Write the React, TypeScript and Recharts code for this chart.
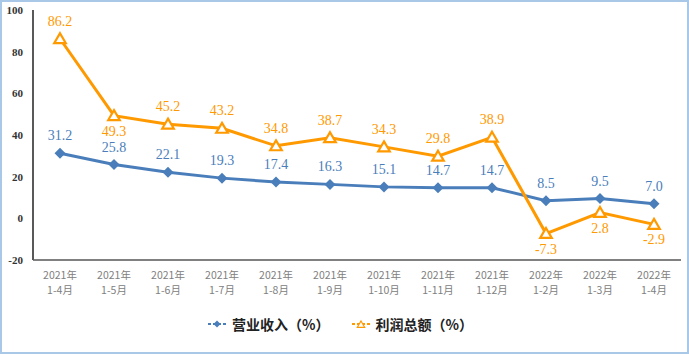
import React from 'react';
import { LineChart, Line, XAxis, YAxis, LabelList, Legend } from 'recharts';

// ---------------------------------------------------------------------------
// Data
// ---------------------------------------------------------------------------

const YEARS = ['2021年', '2021年', '2021年', '2021年', '2021年', '2021年', '2021年', '2021年', '2021年', '2022年', '2022年', '2022年'];
const PERIODS = ['1-4月', '1-5月', '1-6月', '1-7月', '1-8月', '1-9月', '1-10月', '1-11月', '1-12月', '1-2月', '1-3月', '1-4月'];
const REVENUE = [31.2, 25.8, 22.1, 19.3, 17.4, 16.3, 15.1, 14.7, 14.7, 8.5, 9.5, 7.0];
const PROFIT = [86.2, 49.3, 45.2, 43.2, 34.8, 38.7, 34.3, 29.8, 38.9, -7.3, 2.8, -2.9];
const Y_TICKS = [-20, 0, 20, 40, 60, 80, 100];

const BLUE = '#4A7EBB';
const ORANGE = '#FF9900';

const data = YEARS.map((y, i) => ({
  key: `${y}${PERIODS[i]}-${i}`,
  year: y,
  period: PERIODS[i],
  revenue: REVENUE[i],
  profit: PROFIT[i],
}));

// ---------------------------------------------------------------------------
// Shapes
// ---------------------------------------------------------------------------

function diamondPath(cx: number, cy: number, s: number) {
  return `M${cx},${cy - s} L${cx + s},${cy} L${cx},${cy + s} L${cx - s},${cy} Z`;
}

function trianglePath(cx: number, cy: number, s: number) {
  return `M${cx},${cy - s} L${cx + s * 1.05},${cy + s * 0.8} L${cx - s * 1.05},${cy + s * 0.8} Z`;
}

function RevenueDot({ cx, cy }: any) {
  if (cx == null || cy == null) return null;
  return <path d={diamondPath(cx, cy, 5.5)} fill={BLUE} />;
}

function ProfitDot({ cx, cy }: any) {
  if (cx == null || cy == null) return null;
  return <path d={trianglePath(cx, cy, 5.5)} fill="#fff" stroke={ORANGE} strokeWidth={2.2} />;
}

function XTick({ x, y, payload, index }: any) {
  const d = data[index];
  return (
    <g transform={`translate(${x},${y})`}>
      <text x={0} y={11} textAnchor="middle" fill="#808080" fontSize={10.5} fontFamily="'Noto Sans CJK SC', sans-serif">
        {d ? d.year : payload.value}
      </text>
      <text x={0} y={26} textAnchor="middle" fill="#808080" fontSize={10.5} fontFamily="'Noto Sans CJK SC', sans-serif">
        {d ? d.period : ''}
      </text>
    </g>
  );
}

function RevenueLabel({ x, y, value }: any) {
  return (
    <text x={x} y={y - 13} textAnchor="middle" fill={BLUE} fontSize={14} fontFamily="'Liberation Serif', serif">
      {Number(value).toFixed(1)}
    </text>
  );
}

// labels that sit under their point in the original
const PROFIT_BELOW = [1, 9, 10, 11];

function ProfitLabel({ x, y, value, index }: any) {
  const below = PROFIT_BELOW.includes(index);
  return (
    <text
      x={x}
      y={below ? y + 20 : y - 13}
      textAnchor="middle"
      fill={ORANGE}
      fontSize={14}
      fontFamily="'Liberation Serif', serif"
    >
      {Number(value).toFixed(1)}
    </text>
  );
}

function LegendContent() {
  const textStyle: React.CSSProperties = {
    fontSize: 14,
    fontWeight: 700,
    color: '#222',
    fontFamily: "'Noto Sans CJK SC', sans-serif",
  };
  return (
    <div style={{ display: 'flex', justifyContent: 'center', alignItems: 'center', gap: 22 }}>
      <span style={{ display: 'flex', alignItems: 'center', gap: 6 }}>
        <svg width={18} height={10}>
          <line x1={0} y1={5} x2={18} y2={5} stroke={BLUE} strokeWidth={2} strokeDasharray="3 2" />
          <path d={diamondPath(9, 5, 3.5)} fill={BLUE} />
        </svg>
        <span style={textStyle}>营业收入（%）</span>
      </span>
      <span style={{ display: 'flex', alignItems: 'center', gap: 6 }}>
        <svg width={18} height={10}>
          <line x1={0} y1={5} x2={18} y2={5} stroke={ORANGE} strokeWidth={2} strokeDasharray="3 2" />
          <path d={trianglePath(9, 5.5, 3.5)} fill="#fff" stroke={ORANGE} strokeWidth={1.2} />
        </svg>
        <span style={textStyle}>利润总额（%）</span>
      </span>
    </div>
  );
}

// ---------------------------------------------------------------------------
// Component
// ---------------------------------------------------------------------------

export default function App() {
  return (
    <div
      style={{
        position: 'absolute',
        left: 0,
        top: 0,
        width: 689,
        height: 354,
        boxSizing: 'border-box',
        border: '2px solid #A9C8E8',
        background: '#fff',
        overflow: 'hidden',
      }}
    >
      <div style={{ position: 'absolute', left: -2, top: -2 }}>
        <LineChart width={689} height={354} data={data} margin={{ top: 10, right: 8, bottom: 34, left: 0 }}>
          <XAxis
            dataKey="key"
            axisLine={{ stroke: '#808080', strokeWidth: 2 }}
            tickLine={false}
            tick={<XTick />}
            interval={0}
            height={40}
            padding={{ left: 27, right: 27 }}
          />
          <YAxis
            type="number"
            domain={[-20, 100]}
            ticks={Y_TICKS}
            width={33}
            axisLine={{ stroke: '#595959', strokeWidth: 2 }}
            tickLine={false}
            tickMargin={4}
            tick={{ fill: '#333', fontSize: 11, fontWeight: 700, fontFamily: "'Liberation Serif', serif" }}
          />
          <Legend
            verticalAlign="bottom"
            content={<LegendContent />}
            wrapperStyle={{ bottom: 20 }}
          />
          <Line
            dataKey="revenue"
            stroke={BLUE}
            strokeWidth={3}
            dot={<RevenueDot />}
            activeDot={false}
            isAnimationActive={false}
          >
            <LabelList dataKey="revenue" content={<RevenueLabel />} />
          </Line>
          <Line
            dataKey="profit"
            stroke={ORANGE}
            strokeWidth={3}
            dot={<ProfitDot />}
            activeDot={false}
            isAnimationActive={false}
          >
            <LabelList dataKey="profit" content={<ProfitLabel />} />
          </Line>
        </LineChart>
      </div>
    </div>
  );
}
